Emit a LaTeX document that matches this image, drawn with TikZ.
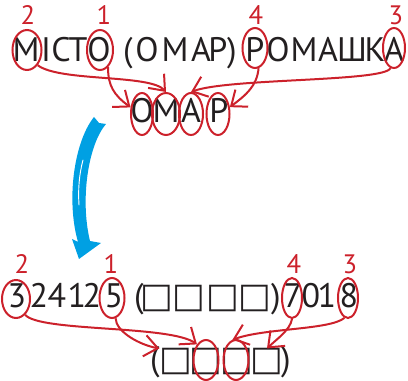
\documentclass[tikz,border=0pt]{standalone}
\usepackage{fontspec}
\setmainfont{PT Sans}
\newfontfamily\boxfont{DejaVu Sans}
\usetikzlibrary{arrows.meta,shapes.geometric}
\definecolor{ink}{RGB}{35,31,32}
\definecolor{redc}{RGB}{204,33,43}
\definecolor{bluec}{RGB}{0,160,227}
\tikzset{
  txt/.style={anchor=base,inner sep=0pt,text=ink,font=\fontsize{25.5}{25.5}\selectfont},
  bx/.style={anchor=base,inner sep=0pt,text=ink,font=\boxfont\fontsize{26}{26}\selectfont},
  num/.style={inner sep=0pt,text=redc,font=\fontsize{20}{20}\selectfont},
  ring/.style 2 args={ellipse,draw=redc,line width=1.5pt,inner sep=0pt,minimum width=#1*1.5pt,minimum height=#2*1.5pt},
  conn/.style={draw=redc,line width=1.5pt,-{Straight Barb[length=10pt,width=16pt,line width=1.5pt]}},
}
\begin{document}
\begin{tikzpicture}[x=0.75pt,y=-0.75pt]
\useasboundingbox (0,0) rectangle (408,381);
% top line
\node[txt] (a1) at (26,62) {М};
\node[txt] (a2) at (46,62) {І};
\node[txt] (a3) at (61,62) {С};
\node[txt] (a4) at (78,62) {Т};
\node[txt] (a5) at (99,62) {О};
\node[txt] (a6) at (128,62) {(};
\node[txt] (a7) at (147,62) {О};
\node[txt] (a8) at (175,62) {М};
\node[txt] (a9) at (201,62) {А};
\node[txt] (a10) at (218,62) {Р};
\node[txt] (a11) at (232,62) {)};
\node[txt] (a12) at (255,62) {Р};
\node[txt] (a13) at (278,62) {О};
\node[txt] (a14) at (304,62) {М};
\node[txt] (a15) at (328,62) {А};
\node[txt] (a16) at (352,62) {Ш};
\node[txt] (a17) at (375,62) {К};
\node[txt] (a18) at (394,62) {А};
% numbers top
\node[num] (n2t) at (28,15) {2};
\node[num] (n1t) at (104,15) {1};
\node[num] (n4t) at (256,15) {4};
\node[num] (n3t) at (396,15) {3};
% rings top
\node[ring={14.5}{20}] (r2t) at (27,50) {};
\node[ring={13}{20}] (r1t) at (100,50) {};
\node[ring={12.5}{20}] (r4t) at (255,48) {};
\node[ring={11}{20}] (r3t) at (394,48) {};
% OMAP line
\node[txt] (b1) at (142,123) {О};
\node[txt] (b2) at (166,123) {М};
\node[txt] (b3) at (191,123) {А};
\node[txt] (b4) at (219,123) {Р};
\node[ring={11}{21}] (s1) at (142,114) {};
\node[ring={14}{21}] (s2) at (166,114) {};
\node[ring={12}{21}] (s3) at (191,114) {};
\node[ring={11.5}{21}] (s4) at (218,114) {};
% top arrows
\draw[conn] (r1t.-65) .. controls (108,86) and (114,95) .. (s1.150);
\draw[conn] (r2t.-55) .. controls (60,82) and (150,74) .. (s2.north);
\draw[conn] (r3t.-100) .. controls (385,82) and (228,78) .. (s3.north);
\draw[conn] (r4t.-80) .. controls (257,86) and (246,95) .. (s4.30);
% blue arrow
\fill[bluec] (94,117) -- (99,123) -- (106,124)
  .. controls (88,145) and (80,200) .. (90,241)
  -- (101,243) -- (79,259) -- (72,239) -- (78,242)
  .. controls (66,200) and (74,142) .. (94,117) -- cycle;
\draw[white,line width=0.7pt,line cap=round] (83,160) .. controls (79,175) and (78,190) .. (79,205);
% bottom line
\node[txt] (c1) at (17,308) {3};
\node[txt] (c2) at (39,308) {2};
\node[txt] (c3) at (57,308) {4};
\node[txt] (c4) at (77,308) {1};
\node[txt] (c5) at (92,308) {2};
\node[txt] (c6) at (114,308) {5};
\node[txt] (c7) at (139,308) {(};
\node[bx] (c8) at (157,308) {□};
\node[bx] (c9) at (189,308) {□};
\node[bx] (c10) at (223,308) {□};
\node[bx] (c11) at (255,308) {□};
\node[txt] (c12) at (276,308) {)};
\node[txt] (c13) at (293,308) {7};
\node[txt] (c14) at (311,308) {0};
\node[txt] (c15) at (327,308) {1};
\node[txt] (c16) at (349,308) {8};
% numbers bottom
\node[num] (n2b) at (22,264) {2};
\node[num] (n1b) at (111,264) {1};
\node[num] (n4b) at (294,264) {4};
\node[num] (n3b) at (350,264) {3};
% rings bottom
\node[ring={14}{19}] (r2b) at (16,299) {};
\node[ring={12.5}{20}] (r1b) at (112,298) {};
\node[ring={10}{20}] (r4b) at (292,298) {};
\node[ring={10}{20}] (r3b) at (348,298) {};
% last line
\node[txt] (d1) at (155,371) {(};
\node[bx] (d2) at (176,371) {□};
\node[bx] (d3) at (206,371) {□};
\node[bx] (d4) at (237,371) {□};
\node[bx] (d5) at (267,371) {□};
\node[txt] (d6) at (286,371) {)};
\node[ring={12.5}{20}] (u2) at (206,360) {};
\node[ring={12.5}{20}] (u3) at (236,360) {};
% bottom arrows
\draw[conn] (r2b.-60) .. controls (40,332) and (170,325) .. (u2.120);
\draw[conn] (r1b.-80) .. controls (116,332) and (140,345) .. (d2.north west);
\draw[conn] (r3b.-100) .. controls (330,330) and (265,328) .. (u3.100);
\draw[conn] (r4b.-90) .. controls (290,330) and (278,338) .. (d5.north);
\end{tikzpicture}
\end{document}
